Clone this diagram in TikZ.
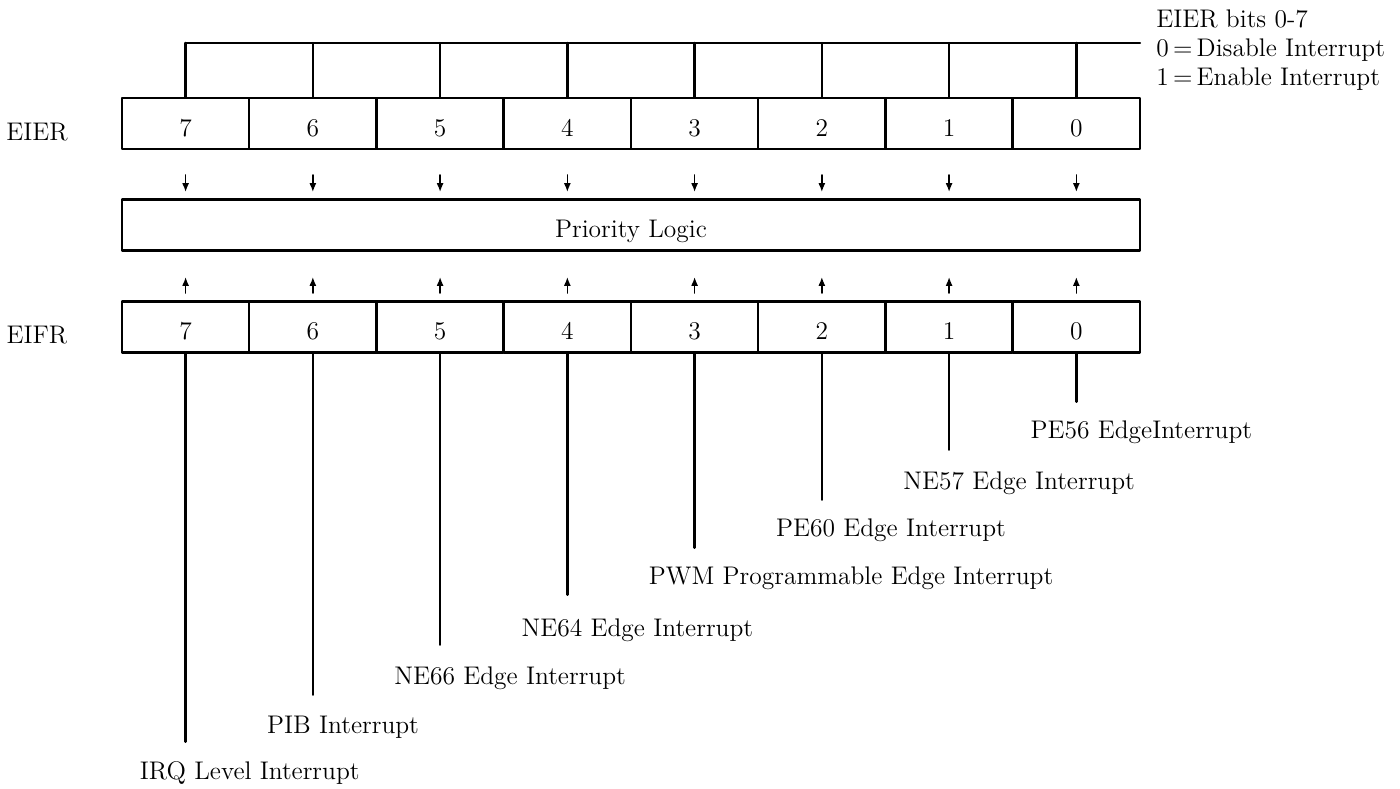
\documentclass[tikz,border=0pt]{standalone}
\usepackage{tikz}
\usetikzlibrary{arrows.meta,positioning}

\begin{document}
\begin{tikzpicture}[
  x=0.02cm,
  y=-0.02cm,
  line cap=round,
  line join=round,
  >={Latex[length=5pt,width=4pt]},
  font=\fontsize{14.5}{16.4}\selectfont,
  regline/.style={black,line width=1.4pt},
  bitcell/.style={draw=black,line width=1.4pt,minimum width=2.545cm,
    minimum height=1.02cm,inner sep=0pt,text height=1.46em,text depth=0pt},
  flowarrow/.style={black,line width=0.9pt,->},
  srclabel/.style={anchor=west,inner sep=0pt}
]
\path[use as bounding box] (0,0) rectangle (1400,788);

\foreach \i in {0,...,7}{
  \node[bitcell] (ier\i) at ({185.6+(7-\i)*127.25},123.5) {\i};
  \node[bitcell] (ifr\i) at ({185.6+(7-\i)*127.25},327) {\i};
}
\node[bitcell,minimum width=20.36cm] (prio) at (631,225) {Priority Logic};

\node (ierlabel) at (37,132) {EIER};
\node (ifrlabel) at (37,335) {EIFR};

\coordinate (combend) at (1140,43);
\draw[regline] (ier7.north |- combend) -- (combend);
\foreach \i in {0,...,7}
  \draw[regline] (ier\i.north |- combend) -- (ier\i.north);

\node[anchor=west,align=left,inner sep=0pt] (legend) at (1156,50)
  {EIER bits 0-7\\ 0\,=\,Disable Interrupt\\ 1\,=\,Enable Interrupt};

\coordinate (dntop) at (0,175);
\coordinate (dnbot) at (0,192);
\coordinate (uptop) at (0,277);
\coordinate (upbot) at (0,293);
\foreach \i in {0,...,7}{
  \draw[flowarrow] (ier\i.south |- dntop) -- (ier\i.south |- dnbot);
  \draw[flowarrow] (ifr\i.north |- upbot) -- (ifr\i.north |- uptop);
}

\foreach \i/\yend/\ylab/\txt in {
  0/400/432/PE56 EdgeInterrupt,
  1/448/483/NE57 Edge Interrupt,
  2/498/530/PE60 Edge Interrupt,
  3/546/578/PWM Programmable Edge Interrupt,
  4/593/630/NE64 Edge Interrupt,
  5/643/678/NE66 Edge Interrupt,
  6/693/727/PIB Interrupt,
  7/740/773/IRQ Level Interrupt}{
  \path (ifr\i.south) ++(0,{\yend-352}) coordinate (end\i);
  \node[srclabel] (src\i) at ({185.6+(7-\i)*127.25-46},\ylab) {\txt};
  \draw[regline] (ifr\i.south) -- (end\i);
}
\end{tikzpicture}
\end{document}
